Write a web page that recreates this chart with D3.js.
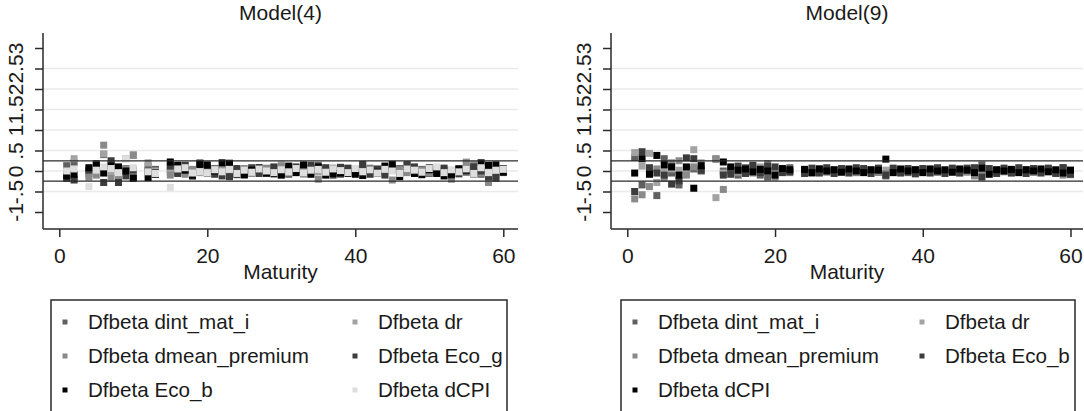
<!DOCTYPE html>
<html><head><meta charset="utf-8">
<script src="https://cdn.jsdelivr.net/npm/d3@7"></script>
<style>body{margin:0;background:#fff}svg text{font-family:"Liberation Sans",Arial,sans-serif;fill:#1a1a1a}</style>
</head><body><svg id="c" width="1084" height="411"></svg>
<script>
const maturity = [1,2,3,4,5,6,7,8,9,10,11,12,13,14,15,16,17,18,19,20,21,22,23,24,25,26,27,28,29,30,31,32,33,34,35,36,37,38,39,40,41,42,43,44,45,46,47,48,49,50,51,52,53,54,55,56,57,58,59,60];
const yTicks = [-1,-0.5,0,0.5,1,1.5,2,2.5,3];
const yTickLabels = ["-1","-.5","0",".5","1","1.5","2","2.5","3"];
const gridValues = [-0.5,0,0.5,1,1.5,2,2.5];
const xTicks = [0,20,40,60];
const cutoffs = [-0.245, 0.245];
const titles = ["Model(4)","Model(9)"];

// Model(4)
const m4_dint_mat_i = [0.13,0.20,null,-0.06,0.04,0.40,0.18,0.05,0.06,-0.15,null,0.12,0.04,null,0.05,0.10,0.13,-0.12,0.20,0.08,0.06,0.06,0.10,-0.09,-0.10,-0.04,0.03,-0.06,0.08,0.06,-0.08,0.05,0.02,0.07,0.14,0.00,0.02,-0.08,0.06,0.02,0.15,0.02,-0.06,0.05,0.02,0.06,0.16,-0.04,0.04,-0.06,0.07,0.02,-0.09,0.06,-0.03,0.12,-0.08,0.08,-0.18,0.00];
const m4_dr = [-0.04,0.30,null,-0.02,0.06,0.42,-0.02,0.02,0.30,0.40,null,0.20,0.00,null,-0.02,0.02,-0.02,-0.10,0.02,0.00,-0.02,0.03,0.00,-0.02,0.03,0.00,-0.02,0.02,0.00,0.15,0.02,-0.02,0.00,0.03,-0.02,0.00,0.02,-0.03,0.00,0.02,0.00,-0.02,0.02,0.00,0.03,-0.02,0.00,0.02,-0.02,0.00,0.03,0.00,-0.02,0.02,0.22,-0.02,0.02,0.00,-0.02,0.02];
const m4_dmean_premium = [-0.10,-0.20,null,-0.15,-0.10,0.63,-0.18,-0.14,0.05,0.38,null,0.02,-0.06,null,-0.10,-0.03,-0.08,0.04,-0.04,-0.06,0.04,0.00,-0.04,0.04,0.06,-0.06,0.00,0.07,-0.03,0.12,-0.04,0.03,0.06,-0.05,-0.20,0.05,0.07,0.03,-0.02,0.05,-0.04,0.07,0.02,-0.05,-0.22,0.03,-0.04,0.06,0.02,-0.04,0.04,-0.06,-0.20,0.04,0.20,0.15,-0.05,-0.28,0.06,-0.04];
const m4_Eco_g = [-0.18,-0.22,null,0.02,0.18,-0.28,0.25,-0.28,-0.12,0.02,null,0.00,-0.04,null,0.12,-0.06,0.14,-0.12,0.18,0.05,-0.08,-0.12,-0.14,0.06,-0.05,0.08,-0.06,-0.04,0.10,-0.09,0.06,0.10,-0.07,0.14,0.06,0.08,-0.10,0.09,0.07,-0.04,0.16,-0.08,0.05,-0.10,0.08,-0.06,0.15,0.10,-0.05,0.08,-0.02,0.07,-0.10,-0.07,0.06,0.10,0.00,-0.14,-0.15,0.06];
const m4_Eco_b = [-0.12,-0.08,null,0.08,0.14,-0.05,0.12,0.10,0.00,-0.18,null,-0.16,-0.08,null,0.22,0.14,0.02,-0.10,0.16,0.15,0.00,0.20,0.19,-0.07,-0.09,0.02,0.08,-0.05,-0.07,-0.10,0.12,-0.04,0.15,-0.08,0.10,-0.10,-0.06,-0.05,-0.06,-0.08,-0.11,0.04,-0.03,0.12,0.16,-0.14,0.05,-0.06,-0.09,0.03,-0.06,-0.12,-0.08,0.05,0.02,-0.07,0.20,0.14,0.15,-0.03];
const m4_dCPI = [0.00,0.05,null,-0.38,0.02,0.10,0.06,-0.04,0.30,0.08,null,-0.02,-0.06,null,-0.40,0.05,0.08,-0.05,-0.02,-0.04,0.03,-0.02,0.04,-0.06,0.02,-0.03,0.05,0.00,-0.04,0.03,-0.02,0.06,-0.05,0.02,0.04,-0.03,0.05,0.01,-0.04,0.06,-0.02,0.03,-0.05,0.04,0.00,-0.06,0.05,0.02,-0.03,0.06,0.10,-0.04,0.03,-0.02,0.05,-0.06,0.08,-0.04,0.02,0.04];

// Model(9)
const m9_dint_mat_i = [0.33,-0.34,0.00,-0.60,0.30,-0.05,-0.34,0.05,0.05,0.00,null,0.29,0.00,0.00,-0.10,0.08,0.10,-0.10,-0.15,0.02,0.00,0.08,null,0.00,-0.05,0.05,0.02,-0.03,0.04,0.00,-0.04,0.03,0.00,-0.03,-0.12,0.02,0.00,-0.04,0.03,0.00,0.04,-0.03,0.00,0.03,-0.04,0.00,0.03,0.15,-0.03,0.00,0.03,-0.04,0.00,0.03,-0.03,0.00,0.04,-0.02,0.08,-0.09];
const m9_dr = [0.45,0.12,0.43,-0.28,0.00,0.05,0.02,-0.02,0.52,0.20,null,-0.65,-0.05,0.02,0.00,-0.02,0.03,0.10,0.00,-0.03,0.02,0.00,null,0.01,0.00,-0.02,0.01,0.00,0.02,-0.01,0.00,0.02,-0.01,0.00,0.02,-0.01,0.00,0.02,0.00,-0.01,0.01,0.00,-0.02,0.00,0.01,-0.01,0.00,-0.10,0.00,0.01,-0.01,0.00,0.02,0.00,-0.01,0.01,0.00,-0.02,0.00,0.01];
const m9_dmean_premium = [-0.68,-0.58,-0.38,0.05,-0.18,0.20,0.25,-0.10,0.10,0.05,null,0.30,-0.45,0.04,-0.04,0.02,-0.05,0.06,0.18,-0.15,0.03,-0.04,null,0.03,-0.02,0.02,-0.03,0.03,-0.02,0.02,-0.03,0.00,0.03,-0.02,-0.06,0.02,-0.02,0.03,-0.02,0.02,-0.03,0.02,0.00,-0.02,0.02,-0.03,-0.12,0.02,-0.02,0.03,-0.02,0.02,-0.03,0.02,0.00,-0.02,0.03,0.00,-0.10,0.02];
const m9_Eco_b = [-0.50,0.47,0.08,-0.05,-0.10,-0.32,-0.24,0.32,0.30,0.02,null,null,-0.10,-0.08,0.12,-0.06,0.14,-0.04,0.12,0.10,-0.04,-0.02,null,-0.06,0.07,-0.05,0.08,-0.06,0.06,-0.05,0.08,0.06,-0.06,0.07,-0.10,0.07,-0.05,0.06,-0.07,0.06,-0.05,0.08,-0.06,0.07,-0.05,0.07,0.08,-0.15,0.06,-0.06,0.07,-0.05,0.08,-0.06,0.06,-0.05,0.07,-0.06,0.08,-0.07];
const m9_dCPI = [-0.05,0.30,-0.08,0.38,0.15,0.10,-0.10,0.10,-0.42,0.13,null,null,0.22,0.10,0.02,0.05,-0.02,0.04,0.00,-0.10,0.06,0.03,null,0.04,-0.04,0.05,0.00,0.03,-0.03,0.05,0.00,-0.04,0.03,0.02,0.29,-0.04,0.05,0.00,0.03,-0.04,0.05,0.00,0.03,-0.03,0.05,0.02,-0.04,0.07,-0.08,0.03,0.00,0.04,-0.04,0.03,0.00,0.05,-0.02,0.03,-0.05,0.02];

const panels = [
  { title: titles[0], axisX: 43, right: 518, x0: 59.3, x60: 503.3, legendX: 51, legendW: 456, col2: 290,
    series: [
      { name: "Dfbeta dint_mat_i", values: m4_dint_mat_i, color: "#606060" },
      { name: "Dfbeta dr", values: m4_dr, color: "#a3a3a3" },
      { name: "Dfbeta dmean_premium", values: m4_dmean_premium, color: "#8a8a8a" },
      { name: "Dfbeta Eco_g", values: m4_Eco_g, color: "#3c3c3c" },
      { name: "Dfbeta Eco_b", values: m4_Eco_b, color: "#000000" },
      { name: "Dfbeta dCPI", values: m4_dCPI, color: "#dedede" }
    ]},
  { title: titles[1], axisX: 611, right: 1083, x0: 627.3, x60: 1070.5, legendX: 621, legendW: 454, col2: 287,
    series: [
      { name: "Dfbeta dint_mat_i", values: m9_dint_mat_i, color: "#606060" },
      { name: "Dfbeta dr", values: m9_dr, color: "#a3a3a3" },
      { name: "Dfbeta dmean_premium", values: m9_dmean_premium, color: "#8a8a8a" },
      { name: "Dfbeta Eco_b", values: m9_Eco_b, color: "#3c3c3c" },
      { name: "Dfbeta dCPI", values: m9_dCPI, color: "#000000" }
    ]}
];

const svg = d3.select("#c");
const yScale = d3.scaleLinear().domain([-1, 3]).range([212, 48]);
const plotTop = 33, plotBottom = 229;
const ms = 7;
const fs = "21px", legendFs = "20.6px";

panels.forEach(p => {
  const x = d3.scaleLinear().domain([0, 60]).range([p.x0, p.x60]);
  const g = svg.append("g");
  const cx = (p.axisX + p.right) / 2;

  g.append("text").attr("x", cx).attr("y", 20).attr("text-anchor", "middle")
    .style("font-size", fs).text(p.title);

  g.selectAll(".grid").data(gridValues).join("line")
    .attr("x1", p.axisX).attr("x2", p.right)
    .attr("y1", d => yScale(d)).attr("y2", d => yScale(d))
    .attr("stroke", "#eaeaea").attr("stroke-width", 1.5);

  p.series.forEach(s => {
    const pts = maturity.map((m, i) => ({ m, v: s.values[i] })).filter(d => d.v !== null);
    g.append("g").selectAll("rect").data(pts).join("rect")
      .attr("x", d => x(d.m) - ms / 2).attr("y", d => yScale(d.v) - ms / 2)
      .attr("width", ms).attr("height", ms).attr("fill", s.color);
  });

  g.selectAll(".cut").data(cutoffs).join("line")
    .attr("x1", p.axisX).attr("x2", p.right)
    .attr("y1", d => yScale(d)).attr("y2", d => yScale(d))
    .attr("stroke", "#2a2a2a").attr("stroke-width", 1.3);

  const ya = d3.axisLeft(yScale).tickValues(yTicks).tickSize(8)
    .tickFormat((d, i) => yTickLabels[i]);
  const yg = g.append("g").attr("transform", `translate(${p.axisX},0)`).call(ya);
  yg.select(".domain").remove();
  yg.selectAll(".tick line").attr("stroke", "#2a2a2a").attr("stroke-width", 1.5);
  yg.selectAll(".tick text").attr("x", null).attr("dy", null).attr("text-anchor", "middle")
    .attr("transform", "translate(-20,0) rotate(-90)")
    .style("font-size", fs).style("font-family", '"Liberation Sans",Arial,sans-serif').attr("fill", "#1a1a1a");
  g.append("line").attr("x1", p.axisX).attr("x2", p.axisX).attr("y1", plotTop).attr("y2", plotBottom)
    .attr("stroke", "#2a2a2a").attr("stroke-width", 1.5);

  const xa = d3.axisBottom(x).tickValues(xTicks).tickSize(8).tickFormat(d3.format("d"));
  const xg = g.append("g").attr("transform", `translate(0,${plotBottom})`).call(xa);
  xg.select(".domain").remove();
  xg.selectAll(".tick line").attr("stroke", "#2a2a2a").attr("stroke-width", 1.5);
  xg.selectAll(".tick text").attr("y", 34).attr("dy", null)
    .style("font-size", fs).style("font-family", '"Liberation Sans",Arial,sans-serif').attr("fill", "#1a1a1a");
  g.append("line").attr("x1", p.axisX).attr("x2", p.right).attr("y1", plotBottom).attr("y2", plotBottom)
    .attr("stroke", "#2a2a2a").attr("stroke-width", 1.5);

  g.append("text").attr("x", cx).attr("y", 279).attr("text-anchor", "middle")
    .style("font-size", fs).text("Maturity");

  const lg = g.append("g");
  lg.append("rect").attr("x", p.legendX).attr("y", 300).attr("width", p.legendW).attr("height", 130)
    .attr("fill", "none").attr("stroke", "#2a2a2a").attr("stroke-width", 1.5);
  p.series.forEach((s, i) => {
    const col = i % 2, row = Math.floor(i / 2);
    const lx = p.legendX + 14 + col * p.col2;
    const ly = 322 + row * 34;
    lg.append("rect").attr("x", lx - 2.5).attr("y", ly - 2.5).attr("width", 5).attr("height", 5).attr("fill", s.color);
    lg.append("text").attr("x", lx + 23).attr("y", ly + 7).style("font-size", legendFs).text(s.name);
  });
});
</script>
</body></html>
